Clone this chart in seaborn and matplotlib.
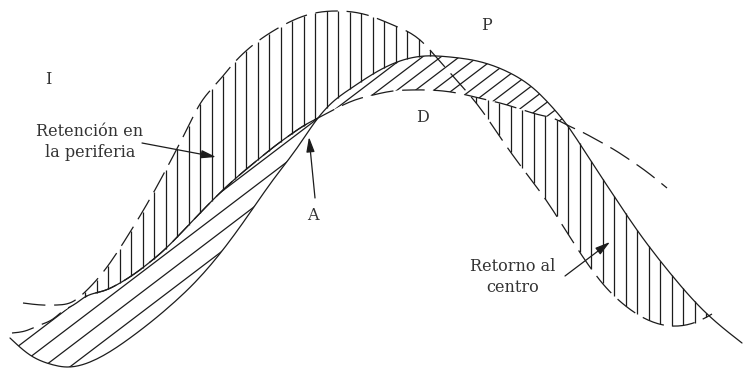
import numpy as np
import matplotlib
matplotlib.use("Agg")
import matplotlib.pyplot as plt
import seaborn as sns
from matplotlib.collections import LineCollection
from matplotlib.patches import Polygon

# ---------------- data (pixel-like units, y downward) ----
# Curve P (solid)
p_x = [10, 30, 50, 67, 90, 130, 170, 200, 222, 247, 273, 297, 318, 335, 350, 373,
       400, 425, 450, 477, 510, 533, 553, 567, 587, 610, 637, 670, 703, 742]
p_y = [338, 355, 364, 367, 362, 338, 306, 277, 251, 217, 180, 148, 118, 100, 89, 74,
       61, 56, 57, 61, 73, 88, 108, 125, 155, 190, 230, 273, 310, 343]

# Curve D (dashed, lower/broad wave)
d_x = [12, 25, 40, 53, 63, 75, 85, 103, 120, 137, 150, 163, 182, 203, 223, 243, 260,
       275, 290, 305, 320, 337, 355, 373, 393, 410, 427, 443, 462, 483, 500, 523, 540,
       555, 567, 580, 597, 613, 630, 647, 667]
d_y = [333, 331, 325, 319, 311, 304, 297, 291, 283, 272, 262, 251, 232, 210, 190, 172,
       158, 146, 135, 125, 117, 108, 100, 95, 91, 90, 90, 91, 94, 99, 103, 110, 115,
       119, 125, 131, 140, 149, 160, 172, 188]

# Curve I (dashed, upper wave)
i_x = [23, 42, 57, 72, 85, 107, 127, 147, 170, 188, 200, 217, 233, 253, 280, 307, 337,
       367, 393, 420, 437, 460, 480, 498, 520, 546, 568, 585, 603, 622, 648, 678, 705, 712]
i_y = [303, 305, 305, 302, 292, 267, 237, 204, 162, 127, 104, 83, 64, 45, 27, 15, 11,
       15, 25, 40, 58, 84, 108, 134, 165, 200, 234, 260, 284, 303, 320, 326, 318, 314]

# labels
letter_labels = ["I", "P", "D", "A"]
letter_pos = [(48, 79), (486, 25), (422, 118), (313, 216)]
note_labels = ["Retención en\nla periferia", "Retorno al\ncentro"]
note_pos = [(90, 142), (513, 277)]
arrow_from = [(142, 143), (565, 276), (315, 198)]
arrow_to = [(216, 157), (610, 242), (309, 137)]

# ---------------- style ---------------------------------------------------------
sns.set_style("white")
plt.rcParams["font.family"] = ["DejaVu Serif", "DejaVu Sans"]
INK = "#1c1c1c"
TXT = "#333333"
LW = 0.9
DASH = (0, (18, 7))
V_SPACING = 11.5
V_START = 85
DIAG_SLOPE = 0.76
LENS_STEP = 20
TOP_STEP = 14


def spline(xs, ys, n=6):
    """natural cubic spline through the read points (rendering only)"""
    x = np.asarray(xs, float)
    y = np.asarray(ys, float)
    k = len(x)
    h = np.diff(x)
    A = np.zeros((k, k))
    r = np.zeros(k)
    A[0, 0] = A[-1, -1] = 1
    for i in range(1, k - 1):
        A[i, i - 1] = h[i - 1]
        A[i, i] = 2 * (h[i - 1] + h[i])
        A[i, i + 1] = h[i]
        r[i] = 3 * ((y[i + 1] - y[i]) / h[i] - (y[i] - y[i - 1]) / h[i - 1])
    c = np.linalg.solve(A, r)
    b = (y[1:] - y[:-1]) / h - h * (2 * c[:-1] + c[1:]) / 3
    d = (c[1:] - c[:-1]) / (3 * h)
    xo, yo = [], []
    for i in range(k - 1):
        t = np.linspace(0, h[i], n, endpoint=False)
        xo.append(x[i] + t)
        yo.append(y[i] + b[i] * t + c[i] * t ** 2 + d[i] * t ** 3)
    xo.append([x[-1]])
    yo.append([y[-1]])
    return np.concatenate(xo), np.concatenate(yo)


px, py = spline(p_x, p_y)
dx, dy = spline(d_x, d_y)
ix, iy = spline(i_x, i_y)

fig = plt.figure(figsize=(7.44, 3.75), dpi=100)
ax = fig.add_axes([0, 0, 1, 1])
ax.set_xlim(0, 744)
ax.set_ylim(375, 0)
ax.axis("off")

# curves
sns.lineplot(x=px, y=py, sort=False, estimator=None, color=INK, lw=LW, ax=ax)
sns.lineplot(x=dx, y=dy, sort=False, estimator=None, color=INK, lw=LW, ax=ax)
ax.lines[-1].set_linestyle(DASH)
sns.lineplot(x=ix, y=iy, sort=False, estimator=None, color=INK, lw=LW, ax=ax)
ax.lines[-1].set_linestyle(DASH)

# common grid
xg = np.linspace(max(p_x[0], d_x[0]), d_x[-1], 1500)
Pg = np.interp(xg, px, py)
Dg = np.interp(xg, dx, dy)
diff = Pg - Dg
sgn = np.sign(diff)
cross_idx = np.where(np.diff(sgn) != 0)[0]
cross_x = [xg[k] for k in cross_idx if xg[k] > 100]
xA, xB = cross_x[0], cross_x[1]

# D drawn solid where it bounds the left lens under the vertical hatching
m = (dx >= V_START) & (dx <= xA)
ax.plot(dx[m], dy[m], color=INK, lw=LW, solid_capstyle="butt")

# vertical hatching between I and the P/D band
xs = np.arange(V_START, i_x[-1], V_SPACING)
segs = []
for x in xs:
    yi = np.interp(x, ix, iy)
    yp = np.interp(x, px, py)
    yd = np.interp(x, dx, dy)
    lo, hi = min(yp, yd), max(yp, yd)
    if yi < lo - 1:
        segs.append([(x, yi), (x, lo)])
    elif yi > hi + 1:
        segs.append([(x, hi), (x, yi)])
ax.add_collection(LineCollection(segs, colors=INK, linewidths=LW))


# diagonal hatching between P and D
def diag_hatch(x0, x1, step):
    mm = (xg >= x0) & (xg <= x1)
    verts = np.vstack([np.column_stack([xg[mm], Pg[mm]]),
                       np.column_stack([xg[mm][::-1], Dg[mm][::-1]])])
    poly = Polygon(verts, closed=True, facecolor="none", edgecolor="none")
    ax.add_patch(poly)
    cs = np.arange(0, 1000, step)
    lines = [[(0, c), (744, c - DIAG_SLOPE * 744)] for c in cs]
    lc = LineCollection(lines, colors=INK, linewidths=LW)
    ax.add_collection(lc)
    lc.set_clip_path(poly)


diag_hatch(xg[0], xA, LENS_STEP)
diag_hatch(xA, xB, TOP_STEP)

# text
for lab, (x, y) in zip(letter_labels, letter_pos):
    ax.text(x, y, lab, ha="center", va="center", fontsize=11.5, color=TXT)
for lab, (x, y) in zip(note_labels, note_pos):
    ax.text(x, y, lab, ha="center", va="center", fontsize=11.5, color=TXT,
            linespacing=1.35)
for (x0, y0), (x1, y1) in zip(arrow_from, arrow_to):
    ax.annotate("", xy=(x1, y1), xytext=(x0, y0),
                arrowprops=dict(arrowstyle="-|>,head_length=0.9,head_width=0.25",
                                color=INK, lw=LW, shrinkA=0, shrinkB=0))

fig.savefig("out.png", dpi=100, facecolor="white")
